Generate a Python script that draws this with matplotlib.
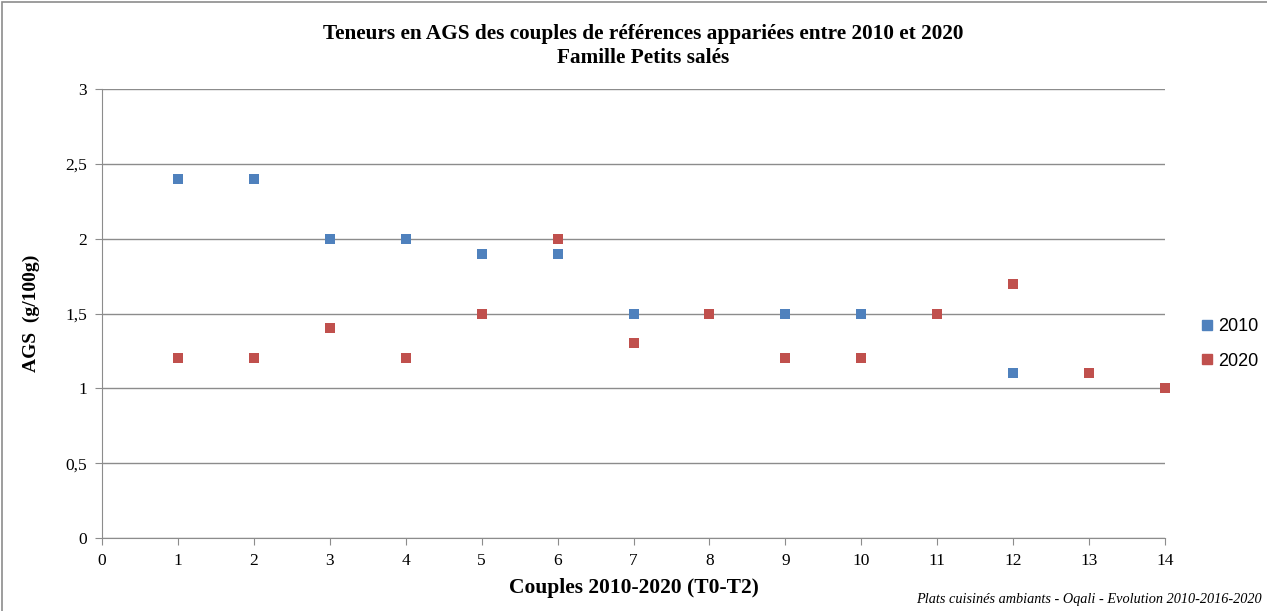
import matplotlib
matplotlib.use("Agg")
import matplotlib.pyplot as plt
from matplotlib.patches import Rectangle
from matplotlib.lines import Line2D

couples = [1, 2, 3, 4, 5, 6, 7, 8, 9, 10, 11, 12, 13, 14]
ags_2010 = [2.4, 2.4, 2.0, 2.0, 1.9, 1.9, 1.5, 1.5, 1.5, 1.5, 1.5, 1.1, 1.1, 1.0]
ags_2020 = [1.2, 1.2, 1.4, 1.2, 1.5, 2.0, 1.3, 1.5, 1.2, 1.2, 1.5, 1.7, 1.1, 1.0]
x_ticks = list(range(0, 15))
y_ticks = [0, 0.5, 1, 1.5, 2, 2.5, 3]
y_tick_labels = ["0", "0,5", "1", "1,5", "2", "2,5", "3"]

blue = "#4F81BD"
red = "#C0504D"
serif = ["Liberation Serif", "DejaVu Serif"]
sans = ["Liberation Sans", "DejaVu Sans"]

fig = plt.figure(figsize=(12.67, 6.11), dpi=100)
ax = fig.add_axes([102/1267, 1-538/611, (1165-102)/1267, (538-89)/611])

ax.scatter(couples, ags_2010, marker="s", s=55, color=blue, zorder=3, linewidths=0, clip_on=False)
ax.scatter(couples, ags_2020, marker="s", s=55, color=red, zorder=4, linewidths=0, clip_on=False)

ax.set_xlim(0, 14)
ax.set_ylim(0, 3)
ax.set_xticks(x_ticks)
ax.set_xticklabels([str(t) for t in x_ticks], fontfamily=serif, fontsize=12.5)
ax.set_yticks(y_ticks)
ax.set_yticklabels(y_tick_labels, fontfamily=serif, fontsize=12.5)
ax.yaxis.grid(True, color="#8c8c8c", linewidth=1.0)
ax.set_axisbelow(True)
for s in ["top", "right"]:
    ax.spines[s].set_visible(False)
ax.spines["left"].set_color("#8c8c8c")
ax.spines["bottom"].set_color("#8c8c8c")
ax.tick_params(axis="both", direction="out", color="#8c8c8c", length=5, pad=6)

ax.set_xlabel("Couples 2010-2020 (T0-T2)", fontfamily=serif, fontsize=15.5, fontweight="bold", labelpad=6)
ax.set_ylabel("AGS  (g/100g)", fontfamily=serif, fontsize=14, fontweight="bold", labelpad=18)

fig.text(643/1267, 1-34/611, "Teneurs en AGS des couples de références appariées entre 2010 et 2020",
         ha="center", va="center", fontfamily=serif, fontsize=15.3, fontweight="bold")
fig.text(643/1267, 1-58/611, "Famille Petits salés",
         ha="center", va="center", fontfamily=serif, fontsize=15.3, fontweight="bold")
fig.text(1262/1267, 1-599/611, "Plats cuisinés ambiants - Oqali - Evolution 2010-2016-2020",
         ha="right", va="center", fontfamily=serif, fontsize=10.3, style="italic")

handles = [Line2D([], [], marker="s", linestyle="none", color=blue, markersize=7),
           Line2D([], [], marker="s", linestyle="none", color=red, markersize=7)]
fig.legend(handles, ["2010", "2020"], loc="center left", bbox_to_anchor=(1196/1267, 1-344/611),
           frameon=False, prop={"family": sans, "size": 13}, handletextpad=0.05,
           labelspacing=0.95, handlelength=1.2, borderpad=0, borderaxespad=0)

fig.patches.append(Rectangle((2/1267, -0.01), 1.0, 1-2/611+0.01, transform=fig.transFigure,
                             fill=False, edgecolor="#8c8c8c", linewidth=1.2))

fig.savefig("out.png", dpi=100, facecolor="white")
